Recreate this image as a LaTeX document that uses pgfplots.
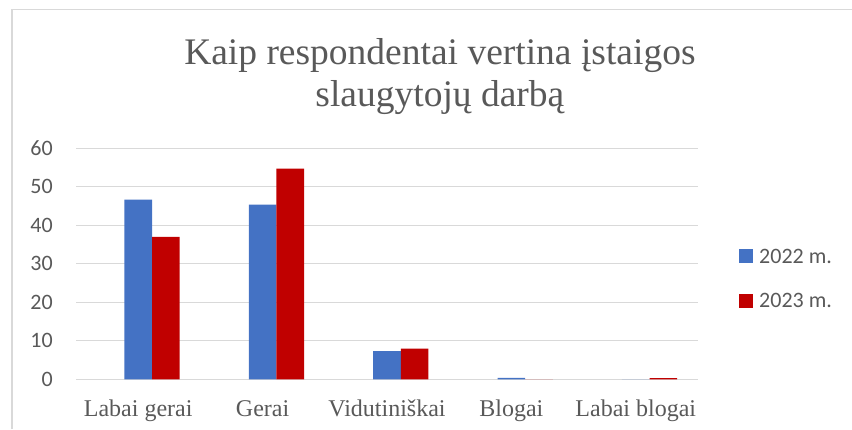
\documentclass[border=0pt]{standalone}
\usepackage{pgfplots}
\pgfplotsset{compat=1.18}
\usepackage{fontspec}
\setmainfont{Liberation Serif}
\newfontfamily\carlito{Carlito}
\definecolor{bluebar}{HTML}{4472C4}
\definecolor{redbar}{HTML}{C00000}
\definecolor{txt}{HTML}{595959}
\definecolor{gridgray}{HTML}{D9D9D9}
\begin{document}
\begin{tikzpicture}[x=1pt,y=1pt]
  \path[use as bounding box] (0,0) rectangle (852,429);
  % chart frame
  \draw[gridgray, line width=1.3pt] (12,0) -- (12,419.7) -- (852,419.7);
  \begin{axis}[
      at={(76pt,49.7pt)}, anchor=south west,
      width=622pt, height=231pt, scale only axis,
      xmin=-0.5, xmax=4.5, ymin=0, ymax=60,
      ytick={0,10,...,60},
      xtick={0,1,2,3,4},
      xticklabels={Labai gerai, Gerai, Vidutiniškai, Blogai, Labai blogai},
      axis line style={draw=none},
      major tick length=0pt,
      ymajorgrids, xmajorgrids=false, grid style={gridgray, line width=1.3pt},
      /pgf/number format/assume math mode=true,
      yticklabel style={font=\fontsize{22}{24}\carlito, text=txt, anchor=east, inner sep=0pt, xshift=-23pt},
      xticklabel style={font=\fontsize{24}{26}\selectfont, text=txt, anchor=base, inner sep=0pt, yshift=-36.7pt},
      title={Kaip respondentai vertina įstaigos\\slaugytojų darbą},
      title style={font=\fontsize{37.5}{42.3}\selectfont, text=txt, align=center, inner sep=0pt,
        at={(rel axis cs:0.5851,1.153)}, anchor=base},
      legend style={at={(rel axis cs:1.066,0.566)}, anchor=north west, draw=none, fill=none,
        inner sep=0pt, row sep=30.5pt, column sep=6pt,
        nodes={inner sep=0pt, text depth=0pt},
        font=\fontsize{22}{24}\carlito, text=txt},
      legend cell align=left,
    ]
    \addplot[ybar, bar width=0.222, bar shift=0, fill=bluebar, draw=none,
      legend image code/.code={\fill[bluebar] (0pt,-7pt) rectangle (14pt,7pt);}]
      coordinates {(0,46.7) (1,45.4) (2,7.3) (3,0.4) (4,0)};
    \addplot[ybar, bar width=0.222, bar shift=0.222, fill=redbar, draw=none,
      legend image code/.code={\fill[redbar] (0pt,-7pt) rectangle (14pt,7pt);}]
      coordinates {(0,37.0) (1,54.7) (2,8.0) (3,0) (4,0.3)};
    \legend{2022 m., 2023 m.}
  \end{axis}
\end{tikzpicture}
\end{document}
